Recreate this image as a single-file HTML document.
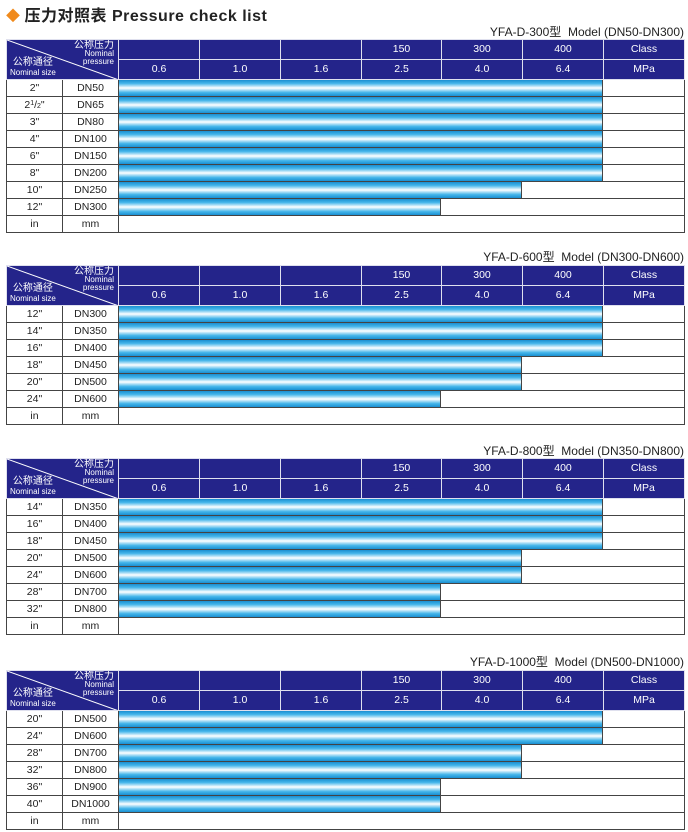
<!DOCTYPE html>
<html><head><meta charset="utf-8"><style>
body{margin:0;width:688px;height:832px;background:#fff;position:relative;overflow:hidden;font-family:"Liberation Sans","Noto Sans CJK SC",sans-serif;color:#222}
.h1{position:absolute;left:6px;top:2px;font-size:16px;font-weight:bold;color:#222;letter-spacing:0.5px}
.h1 .d{color:#f08a1c;font-size:14px;margin-right:4px}
.tt{position:absolute;right:4px;font-size:12px;color:#222}
table{position:absolute;left:6px;border-collapse:collapse;table-layout:fixed;width:678px}
td{border:1px solid #444;padding:0;text-align:center;font-size:10.5px;height:16px;line-height:16px;overflow:hidden;white-space:nowrap}
tr.hd td{background:#24248a;color:#fff;height:19px;line-height:19px;border-color:#dfe0ee;font-size:10.5px}
td.corner{background:#24248a;position:relative;border-color:#24248a;border-right:1px solid #dfe0ee}
.corner svg{position:absolute;left:0;top:0}
.corner .a{position:absolute;right:4px;top:1px;color:#fff;font-size:10px;line-height:9px;text-align:right}
.corner .a small{font-size:8px;display:block;line-height:8px}
.corner .b{position:absolute;left:3px;bottom:2px;color:#fff;font-size:10px;line-height:10px;text-align:center}
.corner .b small{font-size:8px;display:block;line-height:9px}
td.bc{position:relative;text-align:left}
.bar{position:absolute;left:0;top:0;bottom:0;background:linear-gradient(#1a8fd2 0%,#45b6ea 22%,#ffffff 50%,#45b6ea 78%,#1a8fd2 100%);border-right:1px solid #444}
.fr{font-size:7px;line-height:0;position:relative}
</style></head><body>
<div class="h1"><span class="d">◆</span>压力对照表 Pressure check list</div>

<div class="tt" style="top:23px">YFA-D-300型&nbsp; Model (DN50-DN300)</div>
<table style="top:39px">
<colgroup><col style="width:56px"><col style="width:56px"><col style="width:81px"><col style="width:81px"><col style="width:81px"><col style="width:80px"><col style="width:81px"><col style="width:81px"><col style="width:81px"></colgroup>
<tr class="hd"><td class="corner" colspan="2" rowspan="2"><svg width="112" height="40"><line x1="0" y1="0" x2="112" y2="40" stroke="#fff" stroke-width="1"/></svg><div class="a">公称压力<small>Nominal</small><small>pressure</small></div><div class="b">公称通径<small>Nominal size</small></div></td><td></td><td></td><td></td><td>150</td><td>300</td><td>400</td><td>Class</td></tr>
<tr class="hd"><td>0.6</td><td>1.0</td><td>1.6</td><td>2.5</td><td>4.0</td><td>6.4</td><td>MPa</td></tr>
<tr><td>2"</td><td>DN50</td><td class="bc" colspan="7"><div class="bar" style="width:483px"></div></td></tr>
<tr><td>2<span class="fr" style="top:-3px">1</span>/<span class="fr">2</span>"</td><td>DN65</td><td class="bc" colspan="7"><div class="bar" style="width:483px"></div></td></tr>
<tr><td>3"</td><td>DN80</td><td class="bc" colspan="7"><div class="bar" style="width:483px"></div></td></tr>
<tr><td>4"</td><td>DN100</td><td class="bc" colspan="7"><div class="bar" style="width:483px"></div></td></tr>
<tr><td>6"</td><td>DN150</td><td class="bc" colspan="7"><div class="bar" style="width:483px"></div></td></tr>
<tr><td>8"</td><td>DN200</td><td class="bc" colspan="7"><div class="bar" style="width:483px"></div></td></tr>
<tr><td>10"</td><td>DN250</td><td class="bc" colspan="7"><div class="bar" style="width:402px"></div></td></tr>
<tr><td>12"</td><td>DN300</td><td class="bc" colspan="7"><div class="bar" style="width:321px"></div></td></tr>
<tr><td>in</td><td>mm</td><td colspan="7"></td></tr>
</table>

<div class="tt" style="top:248px">YFA-D-600型&nbsp; Model (DN300-DN600)</div>
<table style="top:265px">
<colgroup><col style="width:56px"><col style="width:56px"><col style="width:81px"><col style="width:81px"><col style="width:81px"><col style="width:80px"><col style="width:81px"><col style="width:81px"><col style="width:81px"></colgroup>
<tr class="hd"><td class="corner" colspan="2" rowspan="2"><svg width="112" height="40"><line x1="0" y1="0" x2="112" y2="40" stroke="#fff" stroke-width="1"/></svg><div class="a">公称压力<small>Nominal</small><small>pressure</small></div><div class="b">公称通径<small>Nominal size</small></div></td><td></td><td></td><td></td><td>150</td><td>300</td><td>400</td><td>Class</td></tr>
<tr class="hd"><td>0.6</td><td>1.0</td><td>1.6</td><td>2.5</td><td>4.0</td><td>6.4</td><td>MPa</td></tr>
<tr><td>12"</td><td>DN300</td><td class="bc" colspan="7"><div class="bar" style="width:483px"></div></td></tr>
<tr><td>14"</td><td>DN350</td><td class="bc" colspan="7"><div class="bar" style="width:483px"></div></td></tr>
<tr><td>16"</td><td>DN400</td><td class="bc" colspan="7"><div class="bar" style="width:483px"></div></td></tr>
<tr><td>18"</td><td>DN450</td><td class="bc" colspan="7"><div class="bar" style="width:402px"></div></td></tr>
<tr><td>20"</td><td>DN500</td><td class="bc" colspan="7"><div class="bar" style="width:402px"></div></td></tr>
<tr><td>24"</td><td>DN600</td><td class="bc" colspan="7"><div class="bar" style="width:321px"></div></td></tr>
<tr><td>in</td><td>mm</td><td colspan="7"></td></tr>
</table>

<div class="tt" style="top:442px">YFA-D-800型&nbsp; Model (DN350-DN800)</div>
<table style="top:458px">
<colgroup><col style="width:56px"><col style="width:56px"><col style="width:81px"><col style="width:81px"><col style="width:81px"><col style="width:80px"><col style="width:81px"><col style="width:81px"><col style="width:81px"></colgroup>
<tr class="hd"><td class="corner" colspan="2" rowspan="2"><svg width="112" height="40"><line x1="0" y1="0" x2="112" y2="40" stroke="#fff" stroke-width="1"/></svg><div class="a">公称压力<small>Nominal</small><small>pressure</small></div><div class="b">公称通径<small>Nominal size</small></div></td><td></td><td></td><td></td><td>150</td><td>300</td><td>400</td><td>Class</td></tr>
<tr class="hd"><td>0.6</td><td>1.0</td><td>1.6</td><td>2.5</td><td>4.0</td><td>6.4</td><td>MPa</td></tr>
<tr><td>14"</td><td>DN350</td><td class="bc" colspan="7"><div class="bar" style="width:483px"></div></td></tr>
<tr><td>16"</td><td>DN400</td><td class="bc" colspan="7"><div class="bar" style="width:483px"></div></td></tr>
<tr><td>18"</td><td>DN450</td><td class="bc" colspan="7"><div class="bar" style="width:483px"></div></td></tr>
<tr><td>20"</td><td>DN500</td><td class="bc" colspan="7"><div class="bar" style="width:402px"></div></td></tr>
<tr><td>24"</td><td>DN600</td><td class="bc" colspan="7"><div class="bar" style="width:402px"></div></td></tr>
<tr><td>28"</td><td>DN700</td><td class="bc" colspan="7"><div class="bar" style="width:321px"></div></td></tr>
<tr><td>32"</td><td>DN800</td><td class="bc" colspan="7"><div class="bar" style="width:321px"></div></td></tr>
<tr><td>in</td><td>mm</td><td colspan="7"></td></tr>
</table>

<div class="tt" style="top:653px">YFA-D-1000型&nbsp; Model (DN500-DN1000)</div>
<table style="top:670px">
<colgroup><col style="width:56px"><col style="width:56px"><col style="width:81px"><col style="width:81px"><col style="width:81px"><col style="width:80px"><col style="width:81px"><col style="width:81px"><col style="width:81px"></colgroup>
<tr class="hd"><td class="corner" colspan="2" rowspan="2"><svg width="112" height="40"><line x1="0" y1="0" x2="112" y2="40" stroke="#fff" stroke-width="1"/></svg><div class="a">公称压力<small>Nominal</small><small>pressure</small></div><div class="b">公称通径<small>Nominal size</small></div></td><td></td><td></td><td></td><td>150</td><td>300</td><td>400</td><td>Class</td></tr>
<tr class="hd"><td>0.6</td><td>1.0</td><td>1.6</td><td>2.5</td><td>4.0</td><td>6.4</td><td>MPa</td></tr>
<tr><td>20"</td><td>DN500</td><td class="bc" colspan="7"><div class="bar" style="width:483px"></div></td></tr>
<tr><td>24"</td><td>DN600</td><td class="bc" colspan="7"><div class="bar" style="width:483px"></div></td></tr>
<tr><td>28"</td><td>DN700</td><td class="bc" colspan="7"><div class="bar" style="width:402px"></div></td></tr>
<tr><td>32"</td><td>DN800</td><td class="bc" colspan="7"><div class="bar" style="width:402px"></div></td></tr>
<tr><td>36"</td><td>DN900</td><td class="bc" colspan="7"><div class="bar" style="width:321px"></div></td></tr>
<tr><td>40"</td><td>DN1000</td><td class="bc" colspan="7"><div class="bar" style="width:321px"></div></td></tr>
<tr><td>in</td><td>mm</td><td colspan="7"></td></tr>
</table>
</body></html>
